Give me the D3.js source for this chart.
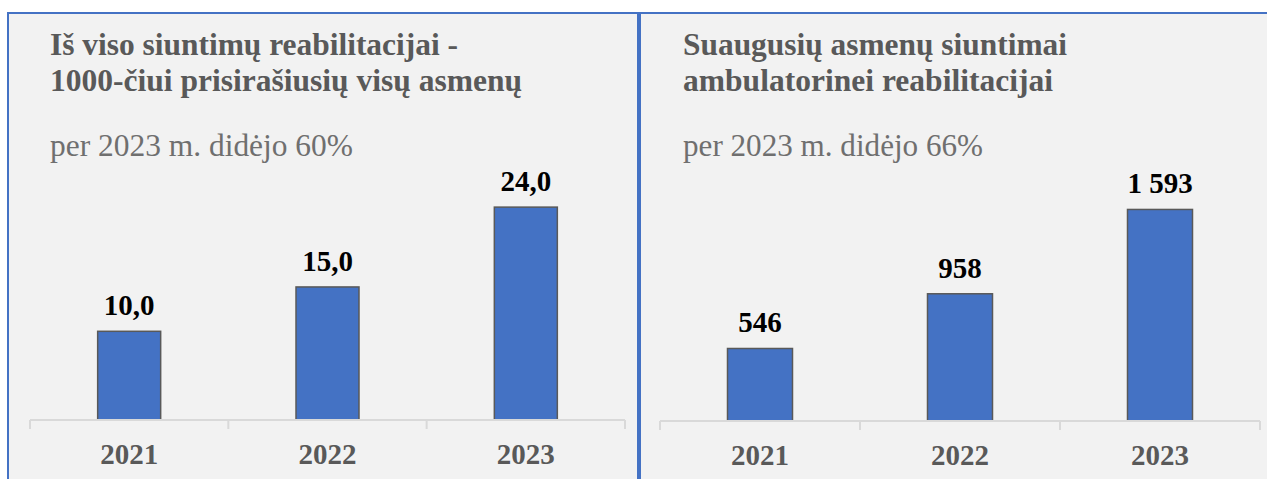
<!DOCTYPE html>
<html>
<head>
<meta charset="utf-8">
<script src="https://cdn.jsdelivr.net/npm/d3@7"></script>
</head>
<body style="margin:0;background:#fff">
<script>
// data
const years = ["2021", "2022", "2023"];
const perThousand = [10.0, 15.0, 24.0];
const adultReferrals = [546, 958, 1593];
const leftTitle = ["Iš viso siuntimų reabilitacijai -", "1000-čiui prisirašiusių visų asmenų"];
const leftSubtitle = "per 2023 m. didėjo 60%";
const rightTitle = ["Suaugusių asmenų siuntimai", "ambulatorinei reabilitacijai"];
const rightSubtitle = "per 2023 m. didėjo 66%";

const SERIF = '"Liberation Serif", "Times New Roman", Tinos, serif';

const svg = d3.select("body").append("svg")
    .attr("width", 1267)
    .attr("height", 479)
    .style("display", "block")
    .style("font-family", SERIF);

const panels = [
    {
        x0: 8, x1: 638, axisX: [30, 625], axisY: 420, pxPerUnit: 8.87,
        values: perThousand, fmt: d => d3.format(".1f")(d).replace(".", ","),
        title: leftTitle, titleWidths: [408, 472], subtitle: leftSubtitle, subWidth: 303,
        textX: 50, barW: 63
    },
    {
        x0: 640, x1: 1275, axisX: [660, 1260], axisY: 421, pxPerUnit: 0.1328,
        values: adultReferrals, fmt: d => d3.format(",")(d).replace(",", " "),
        title: rightTitle, titleWidths: [384, 370], subtitle: rightSubtitle, subWidth: 300,
        textX: 683, barW: 65
    }
];

panels.forEach(p => {
    const g = svg.append("g");

    // panel box
    g.append("rect")
        .attr("x", p.x0)
        .attr("y", 13)
        .attr("width", p.x1 - p.x0)
        .attr("height", 500)
        .attr("fill", "#f2f2f2")
        .attr("stroke", "#4472c4")
        .attr("stroke-width", 2);

    // title + subtitle
    p.title.forEach((t, i) => {
        g.append("text")
            .attr("x", p.textX)
            .attr("y", 55 + i * 36)
            .style("font-family", SERIF)
            .attr("font-size", 32)
            .attr("font-weight", "bold")
            .attr("fill", "#595959")
            .attr("textLength", p.titleWidths[i])
            .attr("lengthAdjust", "spacingAndGlyphs")
            .text(t);
    });
    g.append("text")
        .attr("x", p.textX)
        .attr("y", 156)
        .style("font-family", SERIF)
        .attr("font-size", 32)
        .attr("fill", "#6f6f6f")
        .attr("textLength", p.subWidth)
        .attr("lengthAdjust", "spacingAndGlyphs")
        .text(p.subtitle);

    const x = d3.scaleBand()
        .domain(years)
        .range(p.axisX)
        .padding(0);

    const maxV = d3.max(p.values);
    const y = d3.scaleLinear()
        .domain([0, maxV])
        .range([p.axisY, p.axisY - maxV * p.pxPerUnit]);

    // bars
    g.append("g")
        .selectAll("rect")
        .data(years)
        .join("rect")
        .attr("x", d => x(d) + x.bandwidth() / 2 - p.barW / 2)
        .attr("y", (d, i) => y(p.values[i]))
        .attr("width", p.barW)
        .attr("height", (d, i) => p.axisY - y(p.values[i]))
        .attr("fill", "#4472c4")
        .attr("stroke", "#595959")
        .attr("stroke-width", 1.5);

    // value labels
    g.append("g")
        .selectAll("text")
        .data(years)
        .join("text")
        .attr("x", d => x(d) + x.bandwidth() / 2)
        .attr("y", (d, i) => y(p.values[i]) - 16)
        .attr("text-anchor", "middle")
        .style("font-family", SERIF)
        .attr("font-size", 29)
        .attr("font-weight", "bold")
        .attr("fill", "#000")
        .text((d, i) => p.fmt(p.values[i]));

    // x axis
    const axis = g.append("g")
        .attr("transform", `translate(0,${p.axisY})`)
        .call(d3.axisBottom(x).tickSize(0).tickPadding(0));
    axis.attr("font-family", null);
    axis.select(".domain").remove();
    axis.append("line")
        .attr("x1", p.axisX[0]).attr("x2", p.axisX[1])
        .attr("stroke", "#d9d9d9").attr("stroke-width", 2);
    axis.selectAll(".sep")
        .data(d3.range(years.length + 1))
        .join("line")
        .attr("class", "sep")
        .attr("x1", i => p.axisX[0] + i * x.step())
        .attr("x2", i => p.axisX[0] + i * x.step())
        .attr("y1", 0).attr("y2", 9)
        .attr("stroke", "#d9d9d9").attr("stroke-width", 2);
    axis.selectAll(".tick text")
        .attr("y", 44)
        .attr("dy", 0)
        .style("font-family", SERIF)
        .attr("font-size", 29)
        .attr("font-weight", "bold")
        .attr("fill", "#595959");
});
</script>
</body>
</html>
